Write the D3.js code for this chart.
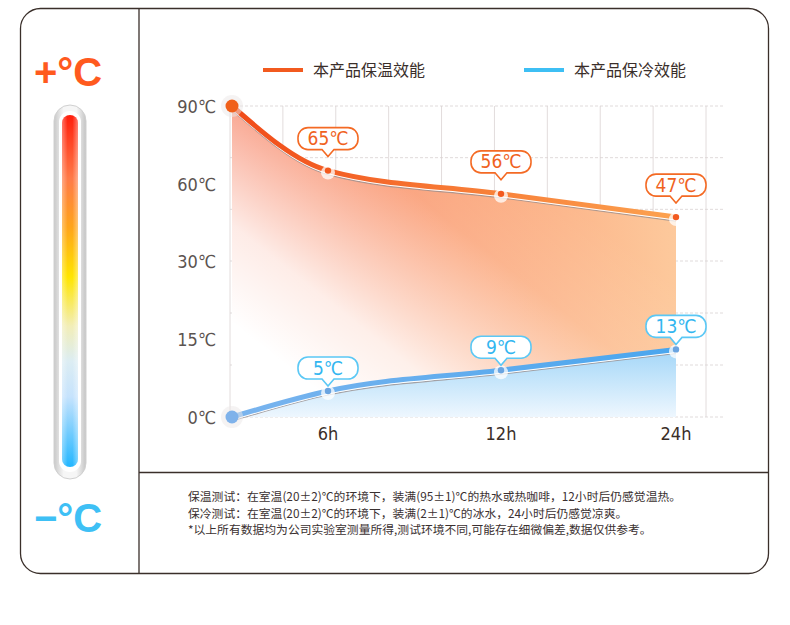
<!DOCTYPE html>
<html>
<head>
<meta charset="utf-8">
<script src="https://cdn.jsdelivr.net/npm/d3@7"></script>
<style>
  body { margin: 0; background: #fff; }
  svg { display: block; }
  .num { font-family: "Liberation Sans Narrow", "DejaVu Sans Condensed", Arial, sans-serif; }
  .cjk { font-family: "Noto Sans CJK SC", "Noto Sans", sans-serif; }
</style>
</head>
<body>
<script>
// data
const hours = [0, 6, 12, 24];
const hourLabels = ["6h", "12h", "24h"];
const hotTemps = [90, 65, 56, 47];
const coldTemps = [0, 5, 9, 13];
const yTicks = [0, 15, 30, 60, 90];
const yGrid = [0, 10, 20, 30, 50, 70, 90];
const gridCols = [0, 1, 2, 3, 4, 5, 6, 7, 8, 9];
const legendNames = ["本产品保温效能", "本产品保冷效能"];
const notes = [
  "保温测试：在室温(20±2)℃的环境下，装满(95±1)℃的热水或热咖啡，12小时后仍感觉温热。",
  "保冷测试：在室温(20±2)℃的环境下，装满(2±1)℃的冰水，24小时后仍感觉凉爽。",
  "*以上所有数据均为公司实验室测量所得,测试环境不同,可能存在细微偏差,数据仅供参考。"
];

const width = 790, height = 625;
const orange = "#f25a1f", blue = "#3dbff4";

const svg = d3.select("body").append("svg")
  .attr("width", width)
  .attr("height", height);

const defs = svg.append("defs");

function grad(id, stops, attrs) {
  const g = defs.append("linearGradient").attr("id", id);
  Object.entries(attrs).forEach(([k, v]) => g.attr(k, v));
  stops.forEach(s => g.append("stop")
    .attr("offset", s[0]).attr("stop-color", s[1])
    .attr("stop-opacity", s[2] === undefined ? 1 : s[2]));
}

grad("hotFill", [[0, "#f67a5a"], [0.5, "#fba57c"], [1, "#fdc99c"]], {x1: 0, y1: 0, x2: 1, y2: 0});
grad("hotFade", [[0, "#fff", 0], [0.3, "#fff", 0.1], [0.75, "#fff", 0.85], [1, "#fff", 1]],
  {gradientUnits: "userSpaceOnUse", x1: 520, y1: 160, x2: 330, y2: 400});
grad("coldFill", [[0, "#a3d6f8"], [1, "#eef7fe"]], {x1: 0, y1: 0, x2: 0, y2: 1});
grad("hotLine", [[0, "#f04a18"], [0.5, "#f77a35"], [1, "#fca250"]], {x1: 0, y1: 0, x2: 1, y2: 0});
grad("coldLine", [[0, "#7ab4ee"], [1, "#4aa6ee"]], {x1: 0, y1: 0, x2: 1, y2: 0});
grad("tube", [[0, "#ff1e0c"], [0.18, "#ff7a48"], [0.32, "#ffa51a"], [0.46, "#ffe500"],
  [0.6, "#f2eeb8"], [0.7, "#dcedf3"], [0.8, "#c6e3fd"], [1, "#22b6ff"]], {x1: 0, y1: 0, x2: 0, y2: 1});
grad("tubeShine", [[0, "#fff", 0.35], [0.35, "#fff", 0], [0.65, "#fff", 0], [1, "#fff", 0.4]], {x1: 0, y1: 0, x2: 1, y2: 0});
grad("glass", [[0, "#c8c8c8"], [0.3, "#f6f6f6"], [0.7, "#f6f6f6"], [1, "#c4c4c4"]], {x1: 0, y1: 0, x2: 1, y2: 0});

// frame
svg.append("rect")
  .attr("x", 20.5).attr("y", 8.5).attr("width", 748).attr("height", 565)
  .attr("rx", 20)
  .attr("fill", "#fff").attr("stroke", "#3a2f2a").attr("stroke-width", 1.3);
svg.append("line").attr("x1", 139).attr("x2", 139).attr("y1", 9).attr("y2", 573)
  .attr("stroke", "#3a2f2a").attr("stroke-width", 1.3);
svg.append("line").attr("x1", 139).attr("x2", 768).attr("y1", 472.5).attr("y2", 472.5)
  .attr("stroke", "#3a2f2a").attr("stroke-width", 1.3);

// thermometer
const th = svg.append("g");
th.append("rect").attr("x", 54).attr("y", 105).attr("width", 32).attr("height", 374).attr("rx", 16)
  .attr("fill", "url(#glass)").attr("stroke", "#d0d0d0");
th.append("rect").attr("x", 59).attr("y", 111).attr("width", 22).attr("height", 361).attr("rx", 11)
  .attr("fill", "#fff");
th.append("rect").attr("x", 62).attr("y", 115).attr("width", 16).attr("height", 352).attr("rx", 8)
  .attr("fill", "url(#tube)");
th.append("rect").attr("x", 62).attr("y", 115).attr("width", 16).attr("height", 352).attr("rx", 8)
  .attr("fill", "url(#tubeShine)");

svg.append("text").attr("x", 68).attr("y", 86)
  .attr("text-anchor", "middle")
  .attr("font-family", "Arial, 'Liberation Sans', sans-serif")
  .attr("font-weight", "bold").attr("font-size", 40)
  .attr("fill", "#ff5a1e").text("+°C");
svg.append("text").attr("x", 68).attr("y", 532)
  .attr("text-anchor", "middle")
  .attr("font-family", "Arial, 'Liberation Sans', sans-serif")
  .attr("font-weight", "bold").attr("font-size", 40)
  .attr("fill", "#3ec0f5").text("−°C");

// scales
const x = d3.scaleLinear().domain([0, 6, 12, 24]).range([232, 328, 501, 676]);
const y = d3.scaleLinear().domain([0, 30, 90]).range([417, 261, 106]);
const gx = d3.scaleLinear().domain([0, 9]).range([230, 706]);

// grid
const grid = svg.append("g");
grid.selectAll("line.v").data(gridCols).enter().append("line")
  .attr("class", "v")
  .attr("x1", d => gx(d)).attr("x2", d => gx(d))
  .attr("y1", y(90)).attr("y2", y(0))
  .attr("stroke", "#e2dcdc").attr("stroke-width", 1);
grid.selectAll("line.h").data(yGrid).enter().append("line")
  .attr("class", "h")
  .attr("x1", gx(0)).attr("x2", 724)
  .attr("y1", d => y(d)).attr("y2", d => y(d))
  .attr("stroke", "#d8d2d2").attr("stroke-dasharray", "3,2").attr("stroke-width", 0.8);

// y labels
svg.selectAll("text.yl").data(yTicks).enter().append("text")
  .attr("class", "yl num")
  .attr("x", 216).attr("y", d => y(d) + 7)
  .attr("text-anchor", "end")
  .attr("font-size", 18).attr("fill", "#5b5350")
  .text(d => d + "℃");

// x labels
svg.selectAll("text.xl").data(hours.slice(1)).enter().append("text")
  .attr("class", "xl num")
  .attr("x", d => x(d)).attr("y", 440)
  .attr("text-anchor", "middle")
  .attr("font-size", 18).attr("fill", "#3a2e28")
  .text((d, i) => hourLabels[i]);

// areas and lines
const hotData = hours.map((h, i) => ({h, t: hotTemps[i]}));
const coldData = hours.map((h, i) => ({h, t: coldTemps[i]}));

const area = d3.area().curve(d3.curveMonotoneX)
  .x(d => x(d.h)).y0(y(0)).y1(d => y(d.t));
const line = d3.line().curve(d3.curveMonotoneX)
  .x(d => x(d.h)).y(d => y(d.t));

svg.append("path").datum(hotData).attr("d", area).attr("fill", "url(#hotFill)");
svg.append("path").datum(hotData).attr("d", area).attr("fill", "url(#hotFade)");
svg.append("path").datum(coldData).attr("d", area).attr("fill", "url(#coldFill)");

function drawLine(data, stroke) {
  const g = svg.append("g");
  g.append("path").datum(data).attr("d", line)
    .attr("transform", "translate(0,4)")
    .attr("fill", "none").attr("stroke", "#9a9090").attr("stroke-width", 1.2).attr("opacity", 0.8);
  g.append("path").datum(data).attr("d", line)
    .attr("transform", "translate(0,2)")
    .attr("fill", "none").attr("stroke", "#fff").attr("stroke-width", 3);
  g.append("path").datum(data).attr("d", line)
    .attr("fill", "none").attr("stroke", stroke).attr("stroke-width", 5)
    .attr("stroke-linecap", "round");
}
drawLine(hotData, "url(#hotLine)");
drawLine(coldData, "url(#coldLine)");

// points
function drawPoints(data, color, startColor) {
  const g = svg.append("g");
  g.selectAll("circle.halo").data(data.slice(1)).enter().append("circle")
    .attr("cx", d => x(d.h)).attr("cy", d => y(d.t) + 2).attr("r", 7)
    .attr("fill", "#fff").attr("opacity", 0.75);
  g.selectAll("circle.dot").data(data.slice(1)).enter().append("circle")
    .attr("cx", d => x(d.h)).attr("cy", d => y(d.t)).attr("r", 3.2)
    .attr("fill", color);
  const s = data[0];
  g.append("circle").attr("cx", x(s.h)).attr("cy", y(s.t)).attr("r", 11)
    .attr("fill", "#ebe8e8").attr("opacity", 0.5);
  g.append("circle").attr("cx", x(s.h)).attr("cy", y(s.t)).attr("r", 6.5)
    .attr("fill", startColor);
}
drawPoints(hotData, "#f25a1f", "#f0601a");
drawPoints(coldData, "#6aa4e0", "#7fb2ea");

// callouts
function calloutPath(w, h, r, p) {
  const l = -w / 2, rt = w / 2, t = -h - p, b = -p;
  return `M${l + r},${t} H${rt - r} A${r},${r} 0 0 1 ${rt},${t + r} V${b - r}` +
    ` A${r},${r} 0 0 1 ${rt - r},${b} H6 L0,0 L-6,${b} H${l + r}` +
    ` A${r},${r} 0 0 1 ${l},${b - r} V${t + r} A${r},${r} 0 0 1 ${l + r},${t} Z`;
}
function drawCallouts(data, stroke, textColor, gap) {
  const g = svg.selectAll(null).data(data.slice(1)).enter().append("g")
    .attr("transform", d => `translate(${x(d.h)},${y(d.t) - gap})`);
  g.append("path").attr("d", calloutPath(60, 22, 10, 7))
    .attr("fill", "#fff").attr("stroke", stroke).attr("stroke-width", 1.6);
  g.append("text").attr("class", "num")
    .attr("x", 0).attr("y", -11.5)
    .attr("text-anchor", "middle")
    .attr("font-size", 19).attr("fill", textColor)
    .text(d => d.t + "℃");
}
drawCallouts(hotData, "#f46a24", "#f0621e", 14);
drawCallouts(coldData, "#5bc8f5", "#33b6f0", 5);

// legend
const legendColors = [orange, blue];
const legendX = [263, 524];
const lg = svg.selectAll("g.legend").data(legendNames).enter().append("g")
  .attr("transform", (d, i) => `translate(${legendX[i]},70)`);
lg.append("line").attr("x1", 0).attr("x2", 40).attr("y1", 0).attr("y2", 0)
  .attr("stroke", (d, i) => legendColors[i]).attr("stroke-width", 4);
lg.append("text").attr("class", "cjk")
  .attr("x", 50).attr("y", 6)
  .attr("font-size", 16).attr("fill", "#3a2e2a")
  .text(d => d);

// notes
svg.selectAll("text.note").data(notes).enter().append("text")
  .attr("class", "note cjk")
  .attr("x", 188).attr("y", (d, i) => 501 + i * 16.5)
  .attr("font-size", 11.8).attr("fill", "#3a3030")
  .text(d => d);
</script>
</body>
</html>
